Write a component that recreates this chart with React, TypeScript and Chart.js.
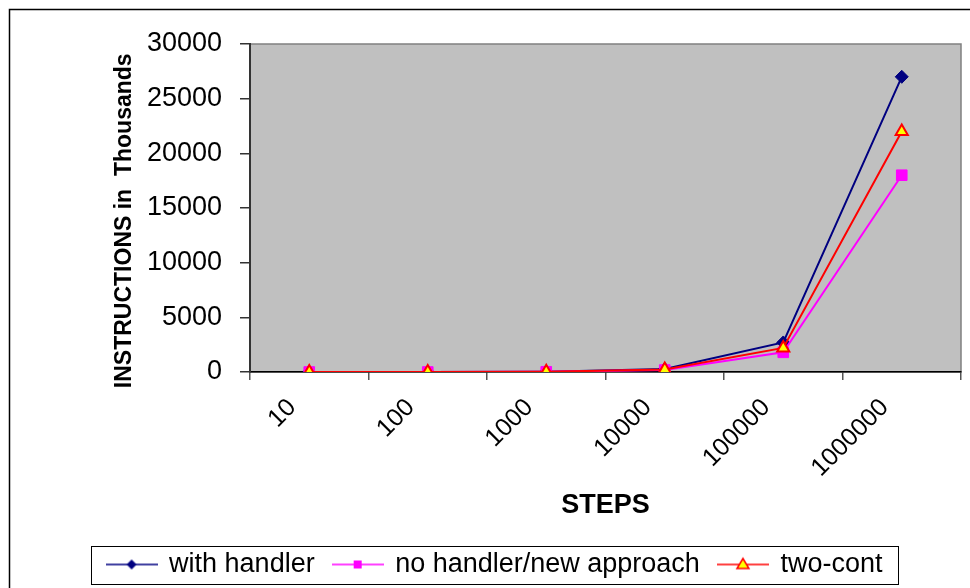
import { useEffect, useRef } from "react";
import { Chart, registerables } from "chart.js";

Chart.register(...registerables);

// Number of steps run (category axis)
const steps = ["10", "100", "1000", "10000", "100000", "1000000"];

// Instructions executed, in thousands
const withHandler = [0.27, 2.7, 27, 270, 2700, 27000];
const noHandler = [0.18, 1.8, 18, 180, 1800, 18000];
const twoCont = [0.22, 2.2, 22, 220, 2200, 22000];

const seriesNames = ["with handler", "no handler/new approach", "two-cont"];

const yMin = 0;
const yMax = 30000;
const yStep = 5000;

const FONT = "'Liberation Sans', Arial, Helvetica, sans-serif";

const NAVY = "#000080";
const MAGENTA = "#FF00FF";
const RED = "#FF0000";
const YELLOW = "#FFFF00";

type MarkerKind = "diamond" | "square" | "triangle";

// Legend swatch: a short line with the series marker in its middle
function makeSwatch(line: string, kind: MarkerKind, fill: string, stroke: string): HTMLCanvasElement {
  const c = document.createElement("canvas");
  c.width = 52;
  c.height = 20;
  const ctx = c.getContext("2d")!;
  ctx.strokeStyle = line;
  ctx.lineWidth = 1.5;
  ctx.beginPath();
  ctx.moveTo(0, 10);
  ctx.lineTo(52, 10);
  ctx.stroke();
  ctx.fillStyle = fill;
  ctx.strokeStyle = stroke;
  ctx.lineWidth = 1.5;
  ctx.beginPath();
  if (kind === "diamond") {
    ctx.moveTo(26 - 5, 10);
    ctx.lineTo(26, 5);
    ctx.lineTo(26 + 5, 10);
    ctx.lineTo(26, 15);
    ctx.closePath();
    ctx.fill();
  } else if (kind === "square") {
    ctx.rect(26 - 4, 10 - 4, 8, 8);
    ctx.fill();
  } else {
    ctx.moveTo(26, 4);
    ctx.lineTo(26 + 6, 14);
    ctx.lineTo(26 - 6, 14);
    ctx.closePath();
    ctx.fill();
    ctx.stroke();
  }
  return c;
}

const framePlugin = {
  id: "frame",
  beforeDraw(chart: any) {
    const { ctx, chartArea } = chart;
    ctx.save();
    // outer chart border
    ctx.strokeStyle = "#000";
    ctx.lineWidth = 1.5;
    ctx.strokeRect(9.5, 9.5, 990, 620);
    // plot area
    ctx.fillStyle = "#C0C0C0";
    ctx.fillRect(chartArea.left, chartArea.top, chartArea.right - chartArea.left, chartArea.bottom - chartArea.top);
    ctx.strokeStyle = "#808080";
    ctx.lineWidth = 1.5;
    ctx.strokeRect(chartArea.left, chartArea.top, chartArea.right - chartArea.left, chartArea.bottom - chartArea.top);
    ctx.restore();
  },
  afterDraw(chart: any) {
    const legend = chart.legend;
    const boxes = legend && legend.legendHitBoxes;
    if (!boxes || !boxes.length) return;
    const first = boxes[0];
    const last = boxes[boxes.length - 1];
    const cy = first.top + first.height / 2;
    const ctx = chart.ctx;
    ctx.save();
    ctx.strokeStyle = "#000";
    ctx.lineWidth = 1;
    const left = Math.round(first.left - 17) + 0.5;
    const right = Math.round(last.left + last.width + 16) + 0.5;
    ctx.strokeRect(left, Math.round(cy - 19) + 0.5, right - left, 38);
    ctx.restore();
  },
};

export default function App() {
  const canvasRef = useRef<HTMLCanvasElement | null>(null);

  useEffect(() => {
    const canvas = canvasRef.current;
    if (!canvas) return;

    const swatches = [
      makeSwatch(NAVY, "diamond", NAVY, NAVY),
      makeSwatch(MAGENTA, "square", MAGENTA, MAGENTA),
      makeSwatch(RED, "triangle", YELLOW, RED),
    ];

    const chart = new Chart(canvas, {
      type: "line",
      data: {
        labels: steps,
        datasets: [
          {
            label: seriesNames[0],
            data: withHandler,
            borderColor: NAVY,
            backgroundColor: NAVY,
            borderWidth: 2,
            pointStyle: "rectRot",
            pointRadius: 6.5,
            pointBackgroundColor: NAVY,
            pointBorderColor: NAVY,
            pointBorderWidth: 1,
            order: 3,
            tension: 0,
          },
          {
            label: seriesNames[1],
            data: noHandler,
            borderColor: MAGENTA,
            backgroundColor: MAGENTA,
            borderWidth: 2,
            pointStyle: "rect",
            pointRadius: 7.5,
            pointBackgroundColor: MAGENTA,
            pointBorderColor: MAGENTA,
            pointBorderWidth: 1,
            order: 2,
            tension: 0,
          },
          {
            label: seriesNames[2],
            data: twoCont,
            borderColor: RED,
            backgroundColor: YELLOW,
            borderWidth: 2,
            pointStyle: "triangle",
            pointRadius: 7,
            pointBackgroundColor: YELLOW,
            pointBorderColor: RED,
            pointBorderWidth: 2,
            order: 1,
            tension: 0,
          },
        ],
      },
      options: {
        responsive: false,
        animation: false,
        layout: { padding: { left: 27, right: 7, top: 44, bottom: 0 } },
        plugins: {
          tooltip: { enabled: false },
          legend: {
            position: "bottom",
            labels: {
              usePointStyle: true,
              pointStyleWidth: 48,
              padding: 19,
              color: "#000",
              font: { family: FONT, size: 27 },
              generateLabels(chart: any) {
                return chart.data.datasets.map((ds: any, i: number) => ({
                  text: ds.label,
                  pointStyle: swatches[i],
                  datasetIndex: i,
                  hidden: false,
                  fontColor: "#000",
                  lineWidth: 0,
                  strokeStyle: "transparent",
                  fillStyle: "transparent",
                }));
              },
            },
          },
        },
        scales: {
          x: {
            type: "category",
            offset: true,
            afterFit(scale: any) {
              scale.height = 160;
            },
            grid: {
              offset: true,
              drawOnChartArea: false,
              drawTicks: true,
              tickLength: 8,
              color: "#555",
              lineWidth: 1.5,
            },
            border: { color: "#000", width: 1.5 },
            ticks: {
              color: "#000",
              font: { family: FONT, size: 25 },
              minRotation: 45,
              maxRotation: 45,
              autoSkip: false,
              padding: 13,
              labelOffset: -17,
            },
            title: {
              display: true,
              text: "STEPS",
              color: "#000",
              font: { family: FONT, size: 27, weight: "bold" },
              padding: { top: 0, bottom: 10 },
            },
          },
          y: {
            min: yMin,
            max: yMax,
            afterFit(scale: any) {
              scale.width = 223;
            },
            grid: {
              drawOnChartArea: false,
              drawTicks: true,
              tickLength: 10,
              color: "#333",
              lineWidth: 1.5,
            },
            border: { color: "#333", width: 2 },
            ticks: {
              stepSize: yStep,
              color: "#000",
              font: { family: FONT, size: 27 },
              padding: 18,
              callback: (v: any) => String(v),
            },
            title: {
              display: true,
              text: "INSTRUCTIONS in  Thousands    ",
              color: "#000",
              font: { family: FONT, size: 23, weight: "bold" },
              padding: { top: 84, bottom: 0 },
            },
          },
        },
      } as any,
      plugins: [framePlugin],
    });

    return () => chart.destroy();
  }, []);

  return (
    <div style={{ position: "absolute", left: 0, top: 0, width: 970, height: 588, background: "#fff" }}>
      <canvas ref={canvasRef} width={970} height={588} style={{ display: "block" }} />
    </div>
  );
}
